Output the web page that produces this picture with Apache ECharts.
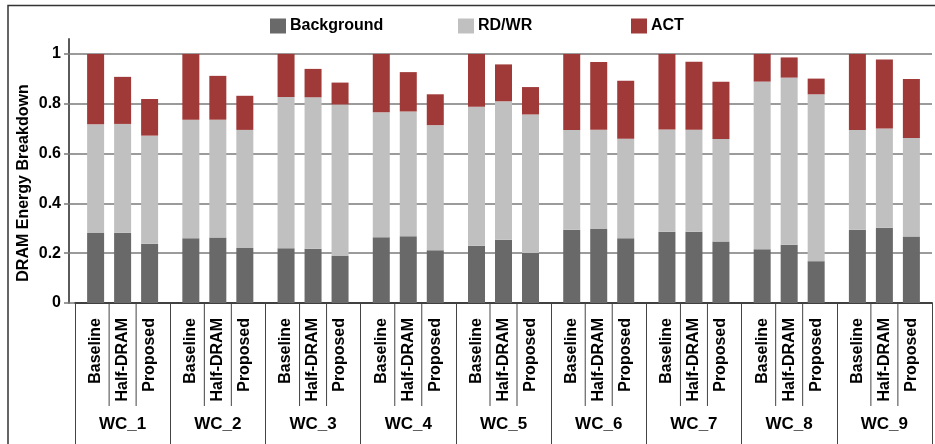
<!DOCTYPE html>
<html>
<head>
<meta charset="utf-8">
<script src="https://cdn.jsdelivr.net/npm/echarts@6/dist/echarts.min.js"></script>
<style>
  html, body { margin: 0; padding: 0; background: #ffffff; }
  #chart { width: 935px; height: 444px; }
</style>
</head>
<body>
<div id="chart"></div>
<script>
// Workload groups and the three memory configurations in each group
const groups = ['WC_1', 'WC_2', 'WC_3', 'WC_4', 'WC_5', 'WC_6', 'WC_7', 'WC_8', 'WC_9'];
const configs = ['Baseline', 'Half-DRAM', 'Proposed'];
const yTicks = [0, 0.2, 0.4, 0.6, 0.8, 1];

// Background energy share
const bgBaseline = [0.281, 0.260, 0.220, 0.264, 0.230, 0.294, 0.286, 0.216, 0.294];
const bgHalf     = [0.282, 0.263, 0.218, 0.268, 0.254, 0.297, 0.286, 0.234, 0.302];
const bgProposed = [0.238, 0.221, 0.189, 0.212, 0.201, 0.260, 0.247, 0.168, 0.267];

// Read/write energy share
const rdwrBaseline = [0.437, 0.476, 0.607, 0.502, 0.558, 0.401, 0.411, 0.673, 0.401];
const rdwrHalf     = [0.437, 0.473, 0.608, 0.501, 0.556, 0.399, 0.410, 0.671, 0.399];
const rdwrProposed = [0.434, 0.474, 0.608, 0.502, 0.556, 0.399, 0.411, 0.670, 0.395];

// Activation energy share
const actBaseline = [0.282, 0.264, 0.173, 0.234, 0.212, 0.305, 0.303, 0.111, 0.305];
const actHalf     = [0.189, 0.176, 0.114, 0.158, 0.148, 0.272, 0.273, 0.081, 0.277];
const actProposed = [0.147, 0.137, 0.088, 0.124, 0.110, 0.233, 0.230, 0.063, 0.237];

const FONT = "'Liberation Sans', Arial, sans-serif";
const BAR_W = 17;          // bar width in px
const BAR_SPACE = 10;      // space between neighbouring bars in a group
const SEP_LEN = 103;       // length of the short separators under the bars
const GRID_COLOR = '#7a7a7a';

const parts = [
  { name: 'Background', color: '#696969', values: [bgBaseline, bgHalf, bgProposed] },
  { name: 'RD/WR',      color: '#c0c0c0', values: [rdwrBaseline, rdwrHalf, rdwrProposed] },
  { name: 'ACT',        color: '#9f3a38', values: [actBaseline, actHalf, actProposed] }
];

const series = [];
configs.forEach((cfg, ci) => {
  parts.forEach((part, pi) => {
    const s = {
      type: 'bar',
      name: part.name,
      stack: cfg,
      data: part.values[ci],
      barWidth: BAR_W,
      barGap: (BAR_SPACE / BAR_W * 100).toFixed(1) + '%',
      itemStyle: { color: part.color },
      emphasis: { disabled: true }
    };
    if (pi === 0) {
      // configuration name written under each bar, reading upwards
      s.label = {
        show: true,
        position: 'bottom',
        distance: 15,
        rotate: 90,
        align: 'right',
        verticalAlign: 'middle',
        formatter: () => cfg,
        color: '#000',
        fontFamily: FONT,
        fontWeight: 'bold',
        fontSize: 16
      };
    }
    series.push(s);
  });
});

// short separators between the configuration labels of each group
series.push({
  type: 'custom',
  silent: true,
  clip: false,
  z: 5,
  data: groups.map((g, i) => [i, 0]),
  encode: { x: 0, y: 1 },
  renderItem(params, api) {
    const p = api.coord([api.value(0), 0]);
    const step = BAR_W + BAR_SPACE;
    return {
      type: 'group',
      children: [-step / 2, step / 2].map(dx => ({
        type: 'line',
        shape: { x1: p[0] + dx, y1: p[1], x2: p[0] + dx, y2: p[1] + SEP_LEN },
        style: { stroke: '#444', lineWidth: 1 }
      }))
    };
  }
});

function legendAt(name, left) {
  return {
    data: [name],
    left: left,
    top: 18,
    padding: 0,
    icon: 'rect',
    itemWidth: 16,
    itemHeight: 15,
    itemGap: 0,
    selectedMode: false,
    textStyle: { fontFamily: FONT, fontWeight: 'bold', fontSize: 16, color: '#000', padding: [0, 0, 0, -1] }
  };
}

const chart = echarts.init(document.getElementById('chart'), null, { renderer: 'canvas' });
chart.setOption({
  animation: false,
  backgroundColor: '#ffffff',
  textStyle: { fontFamily: FONT },
  legend: [legendAt('Background', 270), legendAt('RD/WR', 458), legendAt('ACT', 631)],
  grid: { left: 75, right: 3, top: 39, bottom: 141, containLabel: false },
  xAxis: {
    type: 'category',
    data: groups,
    axisLine: { lineStyle: { color: '#404040', width: 2 } },
    axisTick: { show: true, interval: 0, length: 141, lineStyle: { color: '#444', width: 1 } },
    axisLabel: { interval: 0, margin: 113, color: '#000', fontFamily: FONT, fontWeight: 'bold', fontSize: 17 },
    splitLine: { show: false }
  },
  yAxis: [
    {
      type: 'value',
      min: 0,
      max: 1.06,
      interval: 0.2,
      offset: 6,
      name: 'DRAM Energy Breakdown',
      nameLocation: 'middle',
      nameGap: 37,
      nameMoveOverlap: false,
      nameTextStyle: { fontFamily: FONT, fontWeight: 'bold', fontSize: 16, color: '#000', padding: [0, 24, 0, 0] },
      axisLine: { show: true, lineStyle: { color: '#5a5a5a', width: 2 } },
      axisTick: { show: false },
      axisLabel: {
        showMaxLabel: false,
        margin: 8,
        color: '#000',
        fontFamily: FONT,
        fontWeight: 'bold',
        fontSize: 16,
        formatter: v => (Math.abs(v - Math.round(v * 5) / 5) < 1e-6 ? String(Math.round(v * 5) / 5) : '')
      },
      splitLine: { show: true, showMaxLine: false, lineStyle: { color: GRID_COLOR, width: 1.5 } }
    },
    {
      // tick-only axis: carries the grid lines out past the y axis line
      type: 'value',
      min: 0,
      max: 1.06,
      interval: 0.2,
      position: 'left',
      offset: 0,
      axisLine: { show: false },
      axisLabel: { show: false },
      splitLine: { show: false },
      axisTick: { show: true, length: 11, customValues: yTicks, lineStyle: { color: GRID_COLOR, width: 1.5 } }
    }
  ],
  graphic: [{
    type: 'rect',
    silent: true,
    z: -10,
    shape: { x: 8, y: 5.5, width: 1000, height: 1000 },
    style: { fill: 'none', stroke: '#333', lineWidth: 1.5 }
  }],
  series: series
});
</script>
</body>
</html>
